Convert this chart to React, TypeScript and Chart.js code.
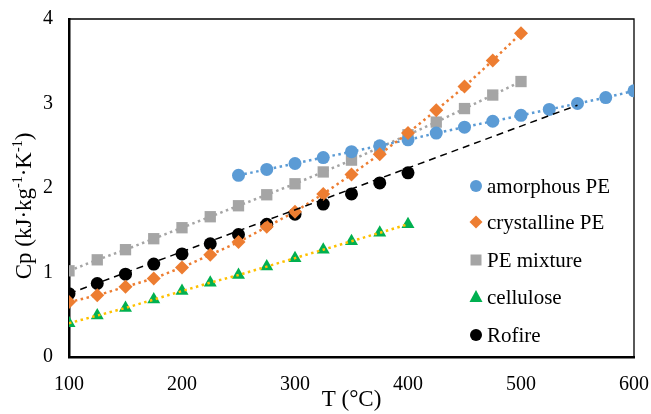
import React, { useEffect, useRef } from "react";
import { Chart, registerables } from "chart.js";

Chart.register(...registerables);

const tempsAmorphous = [250, 275, 300, 325, 350, 375, 400, 425, 450, 475, 500, 525, 550, 575, 600];
const cpAmorphous = [2.15, 2.22, 2.29, 2.36, 2.43, 2.5, 2.57, 2.65, 2.72, 2.79, 2.86, 2.93, 3.0, 3.07, 3.15];

const tempsPE = [100, 125, 150, 175, 200, 225, 250, 275, 300, 325, 350, 375, 400, 425, 450, 475, 500];
const cpCrystalline = [0.65, 0.73, 0.83, 0.93, 1.06, 1.21, 1.36, 1.54, 1.72, 1.93, 2.16, 2.4, 2.65, 2.92, 3.2, 3.51, 3.83];
const cpMixture = [1.02, 1.15, 1.27, 1.4, 1.53, 1.66, 1.79, 1.92, 2.05, 2.19, 2.33, 2.48, 2.63, 2.78, 2.94, 3.1, 3.26];

const tempsShort = [100, 125, 150, 175, 200, 225, 250, 275, 300, 325, 350, 375, 400];
const cpCellulose = [0.4, 0.49, 0.58, 0.68, 0.78, 0.88, 0.97, 1.07, 1.17, 1.27, 1.37, 1.47, 1.57];
const cpRofire = [0.75, 0.87, 0.98, 1.1, 1.22, 1.34, 1.45, 1.57, 1.69, 1.81, 1.93, 2.06, 2.18];

const rofireTrendT = [100, 550];
const rofireTrendCp = [0.75, 2.98];

const xTicks = [100, 200, 300, 400, 500, 600];
const yTicks = [0, 1, 2, 3, 4];

const yTitleParts: [string, boolean][] = [
  ["Cp (kJ·kg", false],
  ["-1", true],
  ["·K", false],
  ["-1", true],
  [")", false],
];

const FONT = "'Liberation Serif', 'Times New Roman', serif";

const pts = (xs: number[], ys: number[]) => xs.map((x, i) => ({ x, y: ys[i] }));

type LegendItem = { label: string; style: string; color: string };
const legendItems: LegendItem[] = [
  { label: "amorphous PE", style: "circle", color: "#5B9BD5" },
  { label: "crystalline PE", style: "diamond", color: "#ED7D31" },
  { label: "PE mixture", style: "square", color: "#A5A5A5" },
  { label: "cellulose", style: "triangle", color: "#00B050" },
  { label: "Rofire", style: "circle", color: "#000000" },
];

const legendPlugin = {
  id: "insideLegend",
  afterDraw(chart: any) {
    const ctx = chart.ctx as CanvasRenderingContext2D;
    const area = chart.chartArea;
    const x0 = area.right - 158;
    const ys = [186, 222, 260, 297, 335];
    ctx.save();
    ctx.font = `21px ${FONT}`;
    ctx.textBaseline = "middle";
    ctx.textAlign = "left";
    legendItems.forEach((it, i) => {
      const y = ys[i];
      ctx.fillStyle = it.color;
      ctx.beginPath();
      if (it.style === "circle") {
        ctx.arc(x0, y, 6, 0, Math.PI * 2);
      } else if (it.style === "diamond") {
        ctx.moveTo(x0 - 6.5, y);
        ctx.lineTo(x0, y - 6.5);
        ctx.lineTo(x0 + 6.5, y);
        ctx.lineTo(x0, y + 6.5);
        ctx.closePath();
      } else if (it.style === "square") {
        ctx.rect(x0 - 5.5, y - 5.5, 11, 11);
      } else {
        ctx.moveTo(x0, y - 7);
        ctx.lineTo(x0 + 6.5, y + 5);
        ctx.lineTo(x0 - 6.5, y + 5);
        ctx.closePath();
      }
      ctx.fill();
      ctx.fillStyle = "#000";
      ctx.fillText(it.label, x0 + 11, y + 1);
    });
    ctx.restore();
  },
};

const yTitlePlugin = {
  id: "yTitle",
  afterDraw(chart: any) {
    const ctx = chart.ctx as CanvasRenderingContext2D;
    const mainFont = `23px ${FONT}`;
    const supFont = `14px ${FONT}`;
    ctx.save();
    let total = 0;
    const widths = yTitleParts.map(([t, sup]) => {
      ctx.font = sup ? supFont : mainFont;
      const w = ctx.measureText(t).width;
      total += w;
      return w;
    });
    ctx.translate(25, 206);
    ctx.rotate(-Math.PI / 2);
    ctx.fillStyle = "#000";
    ctx.textBaseline = "middle";
    ctx.textAlign = "left";
    let x = -total / 2;
    yTitleParts.forEach(([t, sup], i) => {
      ctx.font = sup ? supFont : mainFont;
      ctx.fillText(t, x, sup ? -7 : 0);
      x += widths[i];
    });
    ctx.restore();
  },
};

const framePlugin = {
  id: "frame",
  beforeDatasetsDraw(chart: any) {
    const ctx = chart.ctx as CanvasRenderingContext2D;
    const a = chart.chartArea;
    ctx.save();
    ctx.strokeStyle = "#000";
    ctx.lineWidth = 1.3;
    ctx.beginPath();
    ctx.moveTo(a.left, a.top);
    ctx.lineTo(a.right, a.top);
    ctx.lineTo(a.right, a.bottom);
    ctx.stroke();
    ctx.restore();
  },
};

export default function App() {
  const ref = useRef<HTMLCanvasElement | null>(null);
  useEffect(() => {
    if (!ref.current) return;
    const dotted = [2.5, 3.5];
    const chart = new Chart(ref.current, {
      type: "scatter",
      data: {
        datasets: [
          {
            label: "amorphous PE",
            data: pts(tempsAmorphous, cpAmorphous),
            showLine: true,
            borderColor: "#5B9BD5",
            backgroundColor: "#5B9BD5",
            borderWidth: 2.5,
            borderDash: dotted,
            pointStyle: "circle",
            pointRadius: 6.5,
            pointBorderWidth: 0,
            order: 3,
          },
          {
            label: "crystalline PE",
            data: pts(tempsPE, cpCrystalline),
            showLine: true,
            borderColor: "#ED7D31",
            backgroundColor: "#ED7D31",
            borderWidth: 2.5,
            borderDash: dotted,
            pointStyle: "rectRot",
            pointRadius: 7,
            pointBorderWidth: 0,
            order: 2,
          },
          {
            label: "PE mixture",
            data: pts(tempsPE, cpMixture),
            showLine: true,
            borderColor: "#A5A5A5",
            backgroundColor: "#A5A5A5",
            borderWidth: 2.5,
            borderDash: dotted,
            pointStyle: "rect",
            pointRadius: 8,
            pointBorderWidth: 0,
            order: 4,
          },
          {
            label: "cellulose",
            data: pts(tempsShort, cpCellulose),
            showLine: false,
            borderColor: "#00B050",
            backgroundColor: "#00B050",
            pointStyle: "triangle",
            pointRadius: 7.5,
            pointBorderWidth: 0,
            order: 6,
          },
          {
            label: "cellulose trend",
            data: pts(tempsShort, cpCellulose),
            showLine: true,
            borderColor: "#FFC000",
            borderWidth: 2.5,
            borderDash: dotted,
            pointRadius: 0,
            order: 1,
          },
          {
            label: "Rofire",
            data: pts(tempsShort, cpRofire),
            showLine: false,
            borderColor: "#000",
            backgroundColor: "#000",
            pointStyle: "circle",
            pointRadius: 6.5,
            pointBorderWidth: 0,
            order: 5,
          },
          {
            label: "Rofire trend",
            data: pts(rofireTrendT, rofireTrendCp),
            showLine: true,
            borderColor: "#000",
            borderWidth: 1.5,
            borderDash: [7, 5],
            pointRadius: 0,
            order: 0,
          },
        ],
      },
      options: {
        responsive: false,
        animation: false,
        events: [],
        layout: { padding: { left: 0, top: 19, right: 17, bottom: 0 } },
        plugins: {
          legend: { display: false },
          tooltip: { enabled: false },
        },
        scales: {
          x: {
            type: "linear",
            min: 100,
            max: 600,
            afterFit: (s: any) => {
              s.height = 57;
              s.paddingLeft = 0;
              s.paddingRight = 0;
            },
            afterBuildTicks: (s: any) => {
              s.ticks = xTicks.map((v) => ({ value: v }));
            },
            grid: { display: false, drawTicks: false },
            border: { display: true, color: "#000", width: 2.5 },
            ticks: {
              padding: 16,
              color: "#000",
              font: { family: FONT, size: 20 },
            },
            title: {
              display: true,
              text: "T (°C)",
              color: "#000",
              font: { family: FONT, size: 23 },
              padding: { top: 0, bottom: 0 },
            },
          },
          y: {
            type: "linear",
            min: 0,
            max: 4,
            afterFit: (s: any) => {
              s.width = 69;
              s.paddingTop = 0;
              s.paddingBottom = 0;
            },
            afterBuildTicks: (s: any) => {
              s.ticks = yTicks.map((v) => ({ value: v }));
            },
            grid: { display: false, drawTicks: false },
            border: { display: true, color: "#000", width: 2.5 },
            ticks: {
              padding: 16,
              color: "#000",
              font: { family: FONT, size: 20 },
            },
            title: { display: false },
          },
        },
      },
      plugins: [framePlugin, legendPlugin, yTitlePlugin],
    });
    return () => chart.destroy();
  }, []);
  return (
    <div style={{ position: "fixed", left: 0, top: 0, width: 651, height: 414, background: "#fff" }}>
      <canvas ref={ref} width={651} height={414} style={{ display: "block" }} />
    </div>
  );
}
